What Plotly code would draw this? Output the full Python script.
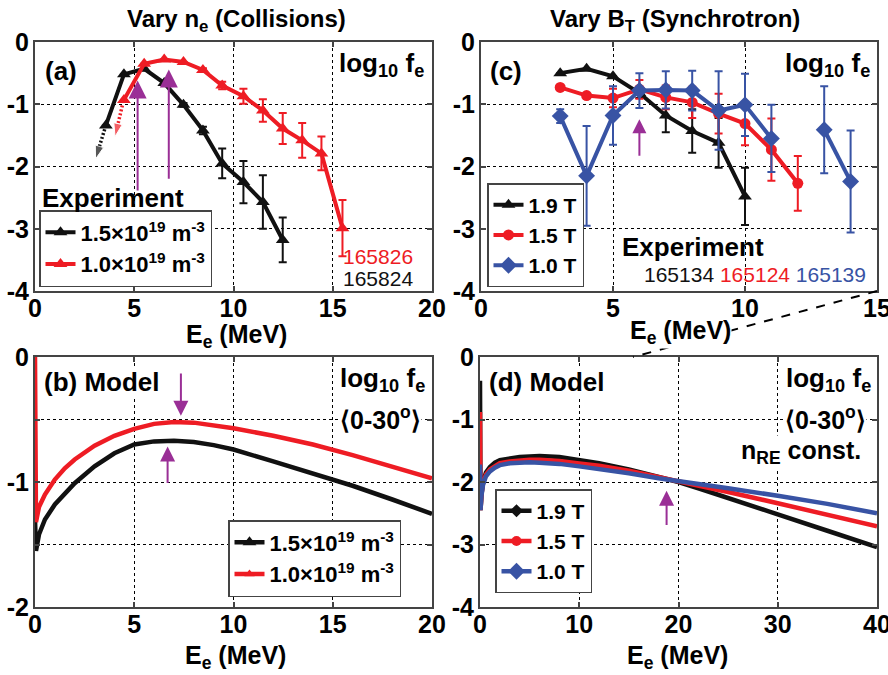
import plotly.graph_objects as go

# ---------------- data ----------------
# (a) experiment, density scan: energy (MeV), log10 f_e, error half-widths
a_energy_hi = [3.57, 4.48, 5.50, 6.51, 7.48, 8.46, 9.43, 10.50, 11.48, 12.48]
a_logf_hi = [-1.34, -0.52, -0.43, -0.66, -1.01, -1.42, -1.95, -2.25, -2.57, -3.18]
a_err_hi = [0, 0, 0, 0, 0.03, 0.06, 0.24, 0.34, 0.43, 0.36]

a_energy_lo = [4.48, 5.50, 6.51, 7.48, 8.46, 9.43, 10.50, 11.48, 12.48, 13.46, 14.43, 15.49]
a_logf_lo = [-0.93, -0.35, -0.28, -0.32, -0.45, -0.70, -0.87, -1.10, -1.39, -1.58, -1.79, -2.99]
a_err_lo = [0, 0, 0, 0, 0.03, 0.06, 0.12, 0.18, 0.25, 0.28, 0.27, 0.45]

# low-energy bounds (dotted arrows)
a_bound_hi_x = [3.57, 3.05]
a_bound_hi_y = [-1.34, -1.88]
a_bound_lo_x = [4.40, 4.03]
a_bound_lo_y = [-1.02, -1.52]

# peak markers in (a): energy, tail, head
a_peak_x = [5.17, 6.74]
a_peak_tail = [-2.41, -2.22]
a_peak_head = [-0.62, -0.44]

# (b) model, density scan
b_energy = [0, 0.05, 0.2, 0.5, 1, 1.5, 2, 3, 4, 5, 6, 7, 8, 9, 10, 12, 14, 16, 18, 20]
b_logf_hi = [-1.30, -1.55, -1.42, -1.30, -1.18, -1.09, -1.01, -0.875, -0.77, -0.70,
             -0.675, -0.67, -0.68, -0.705, -0.74, -0.835, -0.93, -1.03, -1.14, -1.255]
b_logf_lo = [0.0, -1.32, -1.20, -1.10, -0.98, -0.89, -0.82, -0.71, -0.63, -0.575,
             -0.535, -0.52, -0.525, -0.545, -0.57, -0.63, -0.70, -0.785, -0.88, -0.97]
b_peak_x = [7.35, 6.68]
b_peak_tail = [-0.12, -1.02]
b_peak_head = [-0.47, -0.715]

# (c) experiment, field scan
c_energy_19 = [3, 4, 5, 6, 7, 8, 9, 10]
c_logf_19 = [-0.50, -0.43, -0.55, -0.82, -1.18, -1.43, -1.62, -2.48]
c_err_19 = [0, 0, 0, 0.08, 0.27, 0.35, 0.40, 0.46]

c_energy_15 = [3, 4, 5, 6, 7, 8, 9, 10, 11, 12]
c_logf_15 = [-0.73, -0.86, -0.90, -0.76, -0.89, -0.97, -1.15, -1.31, -1.73, -2.27]
c_err_15 = [0, 0, 0.15, 0.15, 0.19, 0.25, 0.32, 0.35, 0.50, 0.44]

c_energy_10 = [3, 4, 5, 6, 7, 8, 9, 10, 11, 12, 13, 14]
c_logf_10 = [-1.19, -2.15, -1.18, -0.78, -0.77, -0.78, -1.10, -1.01, -1.55, None, -1.41, -2.24]
c_err_10 = [0.11, 0.80, 0.47, 0.28, 0.30, 0.32, 0.63, 0.50, 0.54, None, 0.70, 0.82]

c_peak_x = [6.0]
c_peak_tail = [-1.85]
c_peak_head = [-1.24]

# (d) model, field scan (n_RE held constant)
d_energy = [0, 0.05, 0.15, 0.3, 0.6, 1, 1.5, 2, 3, 4, 5, 6, 8, 10, 12, 15, 18, 20, 22, 25, 30, 35, 40]
d_logf_19 = [-0.38, -2.45, -2.20, -2.00, -1.85, -1.76, -1.69, -1.65, -1.62, -1.60, -1.59, -1.585,
             -1.60, -1.645, -1.70, -1.80, -1.92, -2.00, -2.10, -2.26, -2.52, -2.78, -3.04]
d_logf_15 = [-0.88, -2.45, -2.20, -2.02, -1.88, -1.80, -1.74, -1.70, -1.67, -1.655, -1.645, -1.645,
             -1.665, -1.705, -1.74, -1.82, -1.92, -1.99, -2.05, -2.16, -2.34, -2.53, -2.71]
d_logf_10 = [-1.72, -2.45, -2.22, -2.05, -1.91, -1.83, -1.77, -1.73, -1.70, -1.69, -1.685, -1.69,
             -1.71, -1.75, -1.79, -1.86, -1.94, -1.99, -2.03, -2.10, -2.22, -2.35, -2.50]
d_peak_x = [18.8]
d_peak_tail = [-2.71]
d_peak_head = [-2.14]

# labels
dens_names = ["1.5×10<sup>19</sup> m<sup>-3</sup>", "1.0×10<sup>19</sup> m<sup>-3</sup>"]
field_names = ["1.9 T", "1.5 T", "1.0 T"]
shots_a = ["165826", "165824"]
shots_c = ["165134", "165124", "165139"]
ticks_e20 = [0, 5, 10, 15, 20]
ticks_e15 = [0, 5, 10, 15]
ticks_e40 = [0, 10, 20, 30, 40]
ticks_f4 = [0, -1, -2, -3, -4]
ticks_f2 = [0, -0.5, -1, -1.5, -2]
ticktext_f2 = ["0", "", "-1", "", "-2"]

# ---------------- style ----------------
FONT = "Liberation Sans Narrow, Arial Narrow, Liberation Sans, Arial, sans-serif"
BLACK = "#111111"
RED = "#ee1c24"
BLUE = "#3853a4"
PURPLE = "#9a2f96"
FRAME = "#444444"

fig = go.Figure()


def data_trace(x, y, err, color, name, symbol, xa, ya, legend, size=12):
    return go.Scatter(
        x=x, y=y, name=name, mode="lines+markers",
        xaxis=xa, yaxis=ya, legend=legend,
        line=dict(color=color, width=4),
        marker=dict(color=color, symbol=symbol, size=size),
        error_y=dict(type="data", array=err, visible=True, color=color, thickness=2, width=4),
    )


def model_trace(x, y, color, xa, ya):
    return go.Scatter(x=x, y=y, mode="lines", showlegend=False, xaxis=xa, yaxis=ya,
                      line=dict(color=color, width=4.5))


def key_trace(color, name, symbol, xa, ya, legend, size=12):
    return go.Scatter(x=[None], y=[None], mode="lines+markers", name=name,
                      xaxis=xa, yaxis=ya, legend=legend,
                      line=dict(color=color, width=4.5),
                      marker=dict(color=color, symbol=symbol, size=size))


def bound_trace(x, y, color):
    return go.Scatter(x=x, y=y, mode="lines+markers", showlegend=False,
                      line=dict(color=color, width=3.5, dash="2px,2px"),
                      marker=dict(symbol="arrow", angleref="previous", size=[0, 14], color=color))


# (a)
fig.add_trace(bound_trace(a_bound_hi_x, a_bound_hi_y, BLACK))
fig.add_trace(bound_trace(a_bound_lo_x, a_bound_lo_y, RED))
fig.add_trace(data_trace(a_energy_hi, a_logf_hi, a_err_hi, BLACK, dens_names[0], "triangle-up", "x", "y", "legend"))
fig.add_trace(data_trace(a_energy_lo, a_logf_lo, a_err_lo, RED, dens_names[1], "triangle-up", "x", "y", "legend"))

# (b)
fig.add_trace(model_trace(b_energy, b_logf_hi, BLACK, "x2", "y2"))
fig.add_trace(model_trace(b_energy, b_logf_lo, RED, "x2", "y2"))
fig.add_trace(key_trace(BLACK, dens_names[0], "triangle-up", "x2", "y2", "legend2"))
fig.add_trace(key_trace(RED, dens_names[1], "triangle-up", "x2", "y2", "legend2", size=9))

# (c)
fig.add_trace(data_trace(c_energy_19, c_logf_19, c_err_19, BLACK, field_names[0], "triangle-up", "x3", "y3", "legend3"))
fig.add_trace(data_trace(c_energy_15, c_logf_15, c_err_15, RED, field_names[1], "circle", "x3", "y3", "legend3", size=11))
fig.add_trace(data_trace(c_energy_10, c_logf_10, c_err_10, BLUE, field_names[2], "diamond", "x3", "y3", "legend3", size=13))

# (d)
fig.add_trace(model_trace(d_energy, d_logf_19, BLACK, "x4", "y4"))
fig.add_trace(model_trace(d_energy, d_logf_15, RED, "x4", "y4"))
fig.add_trace(model_trace(d_energy, d_logf_10, BLUE, "x4", "y4"))
fig.add_trace(key_trace(BLACK, field_names[0], "diamond", "x4", "y4", "legend4", size=10))
fig.add_trace(key_trace(RED, field_names[1], "circle", "x4", "y4", "legend4", size=10))
fig.add_trace(key_trace(BLUE, field_names[2], "diamond", "x4", "y4", "legend4", size=13))

W, H = 888, 675


def px(x):
    return x / W


def py(y):
    return 1 - y / H


axis_common = dict(
    showline=True, mirror="ticks", linecolor=FRAME, linewidth=2,
    ticks="inside", ticklen=5, tickwidth=1.5, tickcolor=FRAME,
    showgrid=True, gridcolor="black", griddash="dot", gridwidth=1,
    zeroline=False, automargin=False, fixedrange=True, ticklabeloverflow="allow",
    tickfont=dict(family=FONT, size=25, color="black", weight="bold"),
)
xaxis_common = dict(axis_common, ticklabelstandoff=-6)
yaxis_common = dict(axis_common, ticklabelstandoff=-1)


def ylabels(vals):
    return [str(v) for v in vals]


dom_left = [px(35), px(432)]
dom_right = [px(481), px(877)]
dom_top = [py(291), py(42)]
dom_bot = [py(607), py(357)]

fig.update_layout(
    width=W, height=H, margin=dict(l=0, r=0, t=0, b=0), autosize=False,
    paper_bgcolor="white", plot_bgcolor="white",
    font=dict(family=FONT, size=24, color="black", weight="bold"),
    xaxis=dict(xaxis_common, domain=dom_left, anchor="y", range=[0, 20],
               tickvals=ticks_e20),
    yaxis=dict(yaxis_common, domain=dom_top, anchor="x", range=[-4, 0],
               tickvals=ticks_f4, ticktext=ylabels(ticks_f4)),
    xaxis2=dict(xaxis_common, domain=dom_left, anchor="y2", range=[0, 20],
                tickvals=ticks_e20),
    yaxis2=dict(yaxis_common, domain=dom_bot, anchor="x2", range=[-2, 0],
                tickvals=ticks_f2, ticktext=ticktext_f2),
    xaxis3=dict(xaxis_common, domain=dom_right, anchor="y3", range=[0, 15],
                tickvals=ticks_e15),
    yaxis3=dict(yaxis_common, domain=dom_top, anchor="x3", range=[-4, 0],
                tickvals=ticks_f4, ticktext=ylabels(ticks_f4)),
    xaxis4=dict(xaxis_common, domain=[px(480), px(877)], anchor="y4", range=[0, 40],
                tickvals=ticks_e40),
    yaxis4=dict(yaxis_common, domain=dom_bot, anchor="x4", range=[-4, 0],
                tickvals=ticks_f4, ticktext=ylabels(ticks_f4)),
    showlegend=True,
    hovermode=False,
)

legend_common = dict(bgcolor="white", bordercolor=FRAME, borderwidth=1.5,
                     xanchor="left", tracegroupgap=0, itemsizing="trace")
fig.update_layout(
    legend=dict(legend_common, x=px(39), y=py(287), yanchor="bottom",
                font=dict(family=FONT, size=22, weight="bold")),
    legend2=dict(legend_common, x=px(228), y=py(597), yanchor="bottom",
                 font=dict(family=FONT, size=22, weight="bold")),
    legend3=dict(legend_common, x=px(487), y=py(287), yanchor="bottom",
                 font=dict(family=FONT, size=21, weight="bold")),
    legend4=dict(legend_common, x=px(495), y=py(593), yanchor="bottom",
                 font=dict(family=FONT, size=21, weight="bold")),
)

ann = []


def label(text, x, y, xref, yref, xanchor="left", yanchor="middle", size=26, color="black",
          bg=None, weight="bold"):
    d = dict(text=text, x=x, y=y, xref=xref, yref=yref, xanchor=xanchor, yanchor=yanchor,
             showarrow=False, font=dict(family=FONT, size=size, color=color, weight=weight))
    if bg:
        d["bgcolor"] = bg
        d["borderpad"] = 0
    ann.append(d)


def arrows(xs, tails, heads, xref, yref, size):
    for x, t, h in zip(xs, tails, heads):
        ann.append(dict(x=x, y=h, ax=x, ay=t, xref=xref, yref=yref, axref=xref, ayref=yref,
                        text="", showarrow=True, arrowhead=2, arrowsize=size, arrowwidth=2,
                        arrowcolor=PURPLE, standoff=0))


logf = "log<sub>10</sub> f<sub>e</sub>"
angle = "⟨0-30<sup>o</sup>⟩"
ee = "E<sub>e</sub> (MeV)"

# column titles
label("Vary n<sub>e</sub> (Collisions)", px(236), py(20), "paper", "paper", "center", size=24)
label("Vary B<sub>T</sub> (Synchrotron)", px(675), py(20), "paper", "paper", "center", size=24)

# axis titles
label(ee, px(236), py(336), "paper", "paper", "center", size=25)
label(ee, px(680), py(332), "paper", "paper", "center", size=25, bg="white")
label(ee, px(235), py(657), "paper", "paper", "center", size=25)
label(ee, px(677), py(657), "paper", "paper", "center", size=25)

# (a) annotations
label("(a)", 0.02, 0.885, "x domain", "y domain", size=26)
label(logf, 0.985, 0.91, "x domain", "y domain", "right", size=26)
label("Experiment", 0.012, 0.375, "x domain", "y domain", size=26)
label(shots_a[0], 0.958, 0.137, "x domain", "y domain", "right", size=21, color=RED, weight="normal")
label(shots_a[1], 0.958, 0.052, "x domain", "y domain", "right", size=21, color=BLACK, weight="normal")
arrows(a_peak_x, a_peak_tail, a_peak_head, "x", "y", 1.8)

# (b) annotations
label("(b) Model", 0.02, 0.9, "x2 domain", "y2 domain", size=26, bg="white")
label(logf, 0.985, 0.91, "x2 domain", "y2 domain", "right", size=26, bg="white")
label(angle, 0.975, 0.755, "x2 domain", "y2 domain", "right", size=25, bg="white")
arrows(b_peak_x, b_peak_tail, b_peak_head, "x2", "y2", 1.5)

# (c) annotations
label("(c)", 0.018, 0.885, "x3 domain", "y3 domain", size=26)
label(logf, 0.987, 0.91, "x3 domain", "y3 domain", "right", size=26)
label("Experiment", 0.35, 0.177, "x3 domain", "y3 domain", size=26)
label(f"<span style='color:{BLACK}'>{shots_c[0]}</span> "
      f"<span style='color:{RED}'>{shots_c[1]}</span> "
      f"<span style='color:{BLUE}'>{shots_c[2]}</span>",
      0.978, 0.068, "x3 domain", "y3 domain", "right", size=21, weight="normal")
arrows(c_peak_x, c_peak_tail, c_peak_head, "x3", "y3", 1.4)

# (d) annotations
label("(d) Model", 0.02, 0.9, "x4 domain", "y4 domain", size=26, bg="white")
label(logf, 0.987, 0.91, "x4 domain", "y4 domain", "right", size=26, bg="white")
label(angle, 0.975, 0.755, "x4 domain", "y4 domain", "right", size=25, bg="white")
label("n<sub>RE</sub> const.", 0.962, 0.62, "x4 domain", "y4 domain", "right", size=25, bg="white")
arrows(d_peak_x, d_peak_tail, d_peak_head, "x4", "y4", 1.5)

fig.update_layout(annotations=ann)

# dashed connector from panel (c) down to panel (d)
fig.add_shape(type="line", xref="paper", yref="paper",
              x0=px(877), y0=py(291), x1=px(633), y1=py(357),
              line=dict(color="black", width=2, dash="dash"), layer="above")

fig.write_html("out.html")
